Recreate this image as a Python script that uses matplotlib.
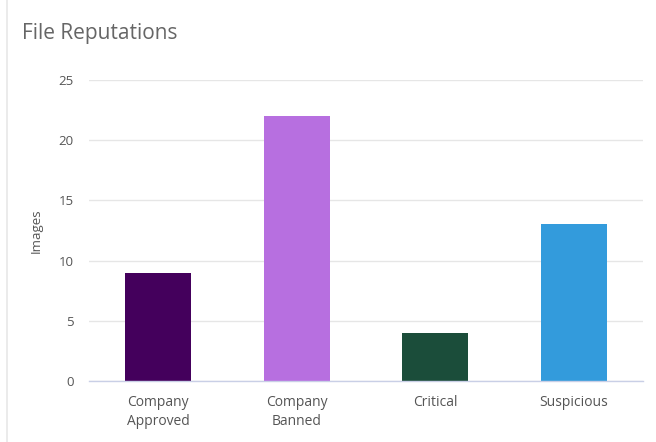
import matplotlib
matplotlib.use("Agg")
import matplotlib.pyplot as plt
from matplotlib.lines import Line2D

categories = ["Company\nApproved", "Company\nBanned", "Critical", "Suspicious"]
values = [9, 22, 4, 13]
colors = ["#44005c", "#b76fe0", "#1b4d3a", "#339bdc"]
yticks = [0, 5, 10, 15, 20, 25]

plt.rcParams['font.family'] = ['Open Sans', 'DejaVu Sans']

fig = plt.figure(figsize=(6.56, 4.42), dpi=100)
ax = fig.add_axes([89/656, 1 - 381/442, (643-89)/656, (381-80)/442])

x = list(range(len(categories)))
ax.bar(x, values, width=0.48, color=colors, zorder=3)
ax.set_xlim(-0.5, len(categories) - 0.5)
ax.set_ylim(0, 25)
ax.set_yticks(yticks)
ax.set_yticklabels([str(t) for t in yticks])
ax.set_xticks(x)
ax.set_xticklabels(categories, fontsize=10, color="#555555", linespacing=1.35)
ax.tick_params(axis='y', length=0, pad=11, labelsize=9.5, labelcolor="#555555")
ax.tick_params(axis='x', length=0, pad=10)
ax.grid(axis='y', color="#e6e6e6", linewidth=1, zorder=0)
for s in ["top", "right", "left"]:
    ax.spines[s].set_visible(False)
ax.spines["bottom"].set_color("#c9cfe6")
ax.spines["bottom"].set_linewidth(1)
ax.spines["bottom"].set_zorder(4)
ax.set_ylabel("Images", fontsize=9.5, color="#555555", labelpad=11)

fig.text(22/656, 1 - 34/442, "File Reputations", fontsize=15, color="#666666", va="center", ha="left")
fig.add_artist(Line2D([7/656, 7/656], [0, 1], transform=fig.transFigure, color="#e8e8e8", linewidth=1.2))

fig.savefig("out.png", dpi=100)
